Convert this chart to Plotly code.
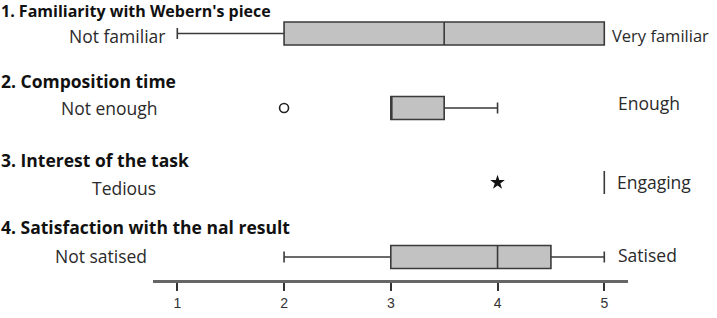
import plotly.graph_objects as go

# ---- data ----
questions = ["1. Familiarity with Webern's piece", "2. Composition time",
             "3. Interest of the task", "4. Satisfaction with the nal result"]
low_labels = ["Not familiar", "Not enough", "Tedious", "Not satised"]
high_labels = ["Very familiar", "Enough", "Engaging", "Satised"]
row_pos = [3, 2, 1, 0]
q1 = [2, 3, 5, 3]
median = [3.5, 3, 5, 4]
q3 = [5, 3.5, 5, 4.5]
lower_fence = [1, 3, 5, 2]
upper_fence = [5, 4, 5, 5]
outlier_x = [2]
outlier_row = [2]
extreme_x = [4]
extreme_row = [1]
tick_vals = [1, 2, 3, 4, 5]
tick_text = ["1", "2", "3", "4", "5"]

W, H = 717, 318
L, R, T, B = 153, 89, 0, 38
PW, PH = W - L - R, H - T - B


def px_x(px):
    return (px - L) / PW


def px_y(py):
    return (H - B - py) / PH


fig = go.Figure()
fig.add_trace(go.Box(
    orientation="h", y=row_pos, q1=q1, median=median, q3=q3,
    lowerfence=lower_fence, upperfence=upper_fence,
    width=0.309, whiskerwidth=0.48, boxpoints=False,
    fillcolor="#c2c2c2", line=dict(color="#3a3a3a", width=1.6),
    showlegend=False, hoverinfo="skip"))
fig.add_trace(go.Scatter(
    x=outlier_x, y=outlier_row, mode="markers",
    marker=dict(symbol="circle-open", size=9, color="#222", line=dict(width=1.6)),
    showlegend=False))
fig.add_trace(go.Scatter(
    x=extreme_x, y=extreme_row, mode="markers",
    marker=dict(symbol="star", size=11, color="#111"),
    showlegend=False))

title_y = [11, 81, 160, 227]
title_size = [16, 17.5, 17.5, 17.5]
low_right = [166, 159, 157, 148]
low_y = [36, 108, 188, 256]
high_left = [611, 617, 616, 617]
high_y = [35, 103, 182, 255]
high_size = [16.5, 17.5, 17.5, 17.5]

ann = []
for i in range(4):
    ann.append(dict(text="<b>" + questions[i] + "</b>", xref="paper", yref="paper",
                    x=px_x(0), y=px_y(title_y[i]), xanchor="left", yanchor="middle",
                    showarrow=False, borderpad=0,
                    font=dict(family="Open Sans", size=title_size[i], color="#111")))
    ann.append(dict(text=low_labels[i], xref="paper", yref="paper",
                    x=px_x(low_right[i]), y=px_y(low_y[i]), xanchor="right", yanchor="middle",
                    showarrow=False, borderpad=0,
                    font=dict(family="Open Sans", size=17.5, color="#2a2a2a")))
    ann.append(dict(text=high_labels[i], xref="paper", yref="paper",
                    x=px_x(high_left[i]), y=px_y(high_y[i]), xanchor="left", yanchor="middle",
                    showarrow=False, borderpad=0,
                    font=dict(family="Open Sans", size=high_size[i], color="#2a2a2a")))

fig.update_layout(
    width=W, height=H, margin=dict(l=L, r=R, t=T, b=B),
    paper_bgcolor="white", plot_bgcolor="white",
    annotations=ann,
    xaxis=dict(range=[1 - 24.3 / 106.7, 5 + 23.7 / 106.7], showgrid=False, zeroline=False,
               showline=True, linecolor="#666", linewidth=2.5,
               ticks="outside", ticklen=8, tickwidth=1.5, tickcolor="#333",
               tickvals=tick_vals, ticktext=tick_text,
               tickfont=dict(family="Liberation Sans", size=14, color="#333")),
    yaxis=dict(range=[(257 - 280) / 74.5, 257 / 74.5], showgrid=False, zeroline=False,
               showline=False, showticklabels=False, fixedrange=True),
)
fig.write_html("out.html")
